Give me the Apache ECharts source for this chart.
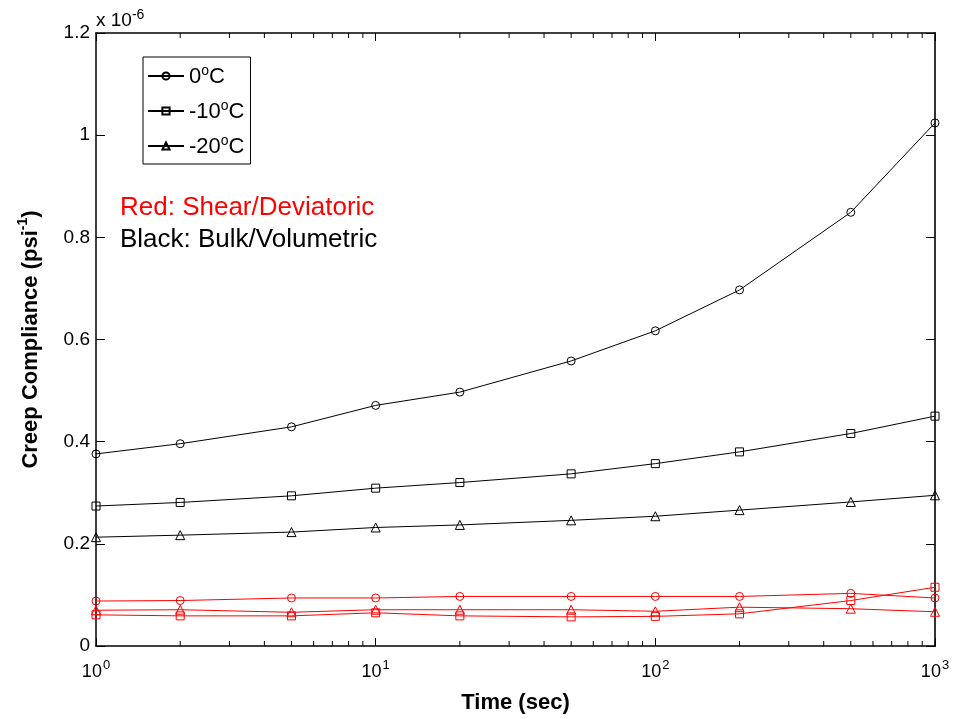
<!DOCTYPE html>
<html>
<head>
<meta charset="utf-8">
<script src="https://cdn.jsdelivr.net/npm/echarts@6/dist/echarts.min.js"></script>
<style>html,body{margin:0;padding:0;background:#fff;overflow:hidden}#c{width:956px;height:719px}</style>
</head>
<body>
<div id="c"></div>
<script>
// ---- data (compliance in units of 1e-6 psi^-1) ----
const times = [1, 2, 5, 10, 20, 50, 100, 200, 500, 1000];
const bulk0   = [0.376, 0.396, 0.429, 0.471, 0.497, 0.558, 0.617, 0.697, 0.849, 1.024];
const bulk10  = [0.274, 0.281, 0.294, 0.309, 0.320, 0.337, 0.357, 0.380, 0.416, 0.450];
const bulk20  = [0.213, 0.217, 0.223, 0.232, 0.237, 0.246, 0.254, 0.266, 0.282, 0.295];
const shear0  = [0.088, 0.089, 0.094, 0.094, 0.097, 0.097, 0.097, 0.097, 0.103, 0.094];
const shear10 = [0.061, 0.059, 0.059, 0.065, 0.059, 0.057, 0.058, 0.063, 0.089, 0.115];
const shear20 = [0.070, 0.071, 0.066, 0.071, 0.071, 0.071, 0.068, 0.076, 0.073, 0.067];
const tempLabels = ['0', '-10', '-20'];
const yTicks = [0, 0.2, 0.4, 0.6, 0.8, 1, 1.2];
const xMinorTicks = [2,3,4,5,6,7,8,9,20,30,40,50,60,70,80,90,200,300,400,500,600,700,800,900];

const FONT = 'Liberation Sans, Arial, sans-serif';
const chart = echarts.init(document.getElementById('c'), null, {renderer: 'canvas', width: 956, height: 719});
const pairs = arr => times.map((t, i) => [t, arr[i]]);
const symbols = ['circle', 'rect', 'triangle'];
const symSizes = [8, 8, 9];

function lineSeries(name, data, color, idx) {
  return {
    name: name, type: 'line', data: pairs(data),
    symbol: symbols[idx], symbolSize: symSizes[idx],
    color: color,
    lineStyle: {color: color, width: 1},
    itemStyle: {color: 'rgba(255,255,255,0)', borderColor: color, borderWidth: 1},
    emphasis: {disabled: true}, animation: false, z: 3
  };
}

const series = [
  lineSeries('b0', bulk0, '#000', 0),
  lineSeries('b10', bulk10, '#000', 1),
  lineSeries('b20', bulk20, '#000', 2),
  lineSeries('r0', shear0, '#ff0000', 0),
  lineSeries('r10', shear10, '#ff0000', 1),
  lineSeries('r20', shear20, '#ff0000', 2),
  {
    type: 'custom', name: 'minor', silent: true, animation: false, clip: false,
    data: xMinorTicks.map(v => [v, yTicks[0]]),
    renderItem: function (params, api) {
      const x = api.value(0);
      const b = api.coord([x, yTicks[0]]);
      const t = api.coord([x, yTicks[yTicks.length - 1]]);
      return {type: 'group', children: [
        {type: 'line', shape: {x1: b[0], y1: b[1], x2: b[0], y2: b[1] - 5}, style: {stroke: '#000', lineWidth: 1}},
        {type: 'line', shape: {x1: t[0], y1: t[1], x2: t[0], y2: t[1] + 5}, style: {stroke: '#000', lineWidth: 1}}
      ]};
    }
  }
];

const supRich = {
  b: {fontSize: 18, fontFamily: FONT, color: '#000', lineHeight: 22, verticalAlign: 'bottom'},
  s: {fontSize: 13, fontFamily: FONT, color: '#000', lineHeight: 22, verticalAlign: 'top', padding: [0, 0, 0, 1]}
};

chart.setOption({
  backgroundColor: '#fff',
  animation: false,
  grid: {left: 96, top: 33, width: 839, height: 616, containLabel: false},
  legend: {
    data: ['b0', 'b10', 'b20'],
    orient: 'vertical', left: 143, top: 57,
    itemWidth: 36, itemHeight: 9, itemGap: 11,
    padding: [7, 6, 6, 4],
    borderColor: '#000', borderWidth: 1,
    selectedMode: false,
    formatter: function (name) {
      const k = {b0: 0, b10: 1, b20: 2}[name];
      return '{n|' + tempLabels[k] + '}{s|o}{n|C}';
    },
    textStyle: {
      rich: {
        n: {fontSize: 22, fontFamily: FONT, color: '#000', lineHeight: 24, verticalAlign: 'bottom'},
        s: {fontSize: 14, fontFamily: FONT, color: '#000', lineHeight: 24, verticalAlign: 'top'}
      }
    }
  },
  xAxis: [{
    type: 'log', logBase: 10, min: 1, max: 1000, position: 'bottom',
    name: 'Time (sec)', nameLocation: 'middle', nameGap: 46,
    nameTextStyle: {fontSize: 22, fontWeight: 'bold', fontFamily: FONT, color: '#000'},
    axisLine: {show: true, onZero: false, lineStyle: {color: '#000', width: 1.5}},
    axisTick: {show: true, inside: true, length: 8, lineStyle: {color: '#000', width: 1}},
    splitLine: {show: false},
    axisLabel: {
      margin: 13, color: '#000',
      formatter: v => '{b|10}{s|' + Math.round(Math.log10(v)) + '}',
      rich: supRich
    }
  }, {
    type: 'log', logBase: 10, min: 1, max: 1000, position: 'top',
    axisLine: {show: true, onZero: false, lineStyle: {color: '#000', width: 1.5}},
    axisTick: {show: true, inside: true, length: 8, lineStyle: {color: '#000', width: 1}},
    axisLabel: {show: false}, splitLine: {show: false}
  }],
  yAxis: [{
    type: 'value', min: 0, max: 1.2, interval: 0.2, position: 'left',
    name: '{t|Creep Compliance (psi}{s|-1}{t|)}', nameLocation: 'middle', nameGap: 54, nameRotate: 90,
    nameTextStyle: {
      rich: {
        t: {fontSize: 22, fontWeight: 'bold', fontFamily: FONT, color: '#000', lineHeight: 26, verticalAlign: 'bottom'},
        s: {fontSize: 14, fontWeight: 'bold', fontFamily: FONT, color: '#000', lineHeight: 26, verticalAlign: 'top'}
      }
    },
    axisLine: {show: true, onZero: false, lineStyle: {color: '#000', width: 1.5}},
    axisTick: {show: true, inside: true, length: 9, lineStyle: {color: '#000', width: 1}},
    splitLine: {show: false},
    axisLabel: {
      margin: 6, color: '#000', fontSize: 19, fontFamily: FONT,
      formatter: v => String(parseFloat(v.toFixed(1)))
    }
  }, {
    type: 'value', min: 0, max: 1.2, interval: 0.2, position: 'right',
    axisLine: {show: true, onZero: false, lineStyle: {color: '#333', width: 2}},
    axisTick: {show: true, inside: true, length: 9, lineStyle: {color: '#000', width: 1}},
    axisLabel: {show: false}, splitLine: {show: false}
  }],
  graphic: [
    {type: 'text', left: 96, top: 8, silent: true, style: {
      text: '{a|x 10}{s|-6}', rich: {
        a: {fontSize: 19, fontFamily: FONT, fill: '#000', lineHeight: 22, verticalAlign: 'bottom'},
        s: {fontSize: 14, fontFamily: FONT, fill: '#000', lineHeight: 22, verticalAlign: 'top'}
      }}},
    {type: 'text', left: 120, top: 195, silent: true, style: {
      text: 'Red: Shear/Deviatoric', fill: '#ff0000', font: '26px ' + FONT}},
    {type: 'text', left: 120, top: 227, silent: true, style: {
      text: 'Black: Bulk/Volumetric', fill: '#000', font: '26px ' + FONT}}
  ],
  series: series
});
</script>
</body>
</html>
